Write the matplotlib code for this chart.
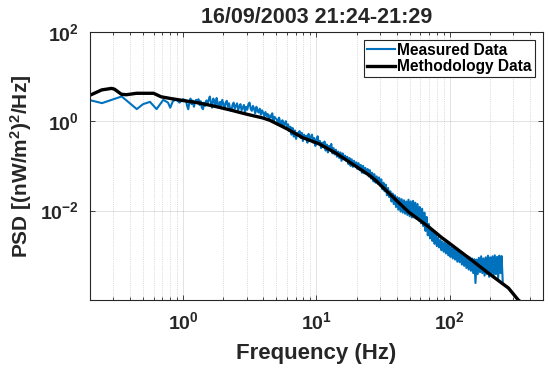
import matplotlib
matplotlib.use('Agg')
import matplotlib.pyplot as plt
import numpy as np
from matplotlib.ticker import FixedLocator, NullLocator, LogLocator, FuncFormatter

# --- Global Style (MATLAB-ish look) ---
plt.rcParams.update({
    'font.family': 'sans-serif',
    'font.sans-serif': ['Liberation Sans', 'DejaVu Sans'],
    'font.weight': 'bold',
    'mathtext.fontset': 'custom',
    'mathtext.rm': 'Liberation Sans:bold',
    'mathtext.bf': 'Liberation Sans:bold',
    'mathtext.it': 'Liberation Sans:bold',
    'axes.linewidth': 0.8,
    'xtick.direction': 'in',
    'ytick.direction': 'in',
})

# --- Measured data: sparse low-frequency part (Hz, PSD) ---
meas_freq_low = [0.20, 0.246, 0.346, 0.449, 0.50, 0.564, 0.632, 0.71, 0.77,
                 0.80, 0.84, 0.89, 0.94, 1.00]
meas_psd_low = [2.95, 2.53, 3.57, 1.86, 2.4, 2.7, 1.86, 3.0, 2.6,
                2.0, 2.85, 3.0, 2.6, 3.1]

# dense part: 280 bins from 1.05 Hz to 250 Hz (log spaced sample grid)
meas_freq_high = np.geomspace(1.05, 250, 280)
meas_psd_high = [
    2.9, 2.2, 1.85, 2.6, 3.2, 2.4, 2.9, 2.1, 2.7, 3.0,
    2.5, 3.1, 2.3, 2.8, 2.0, 1.85, 2.6, 2.2, 2.9, 2.4,
    3.0, 3.55, 2.6, 2.0, 3.2, 2.8, 2.3, 3.3, 2.5, 2.1,
    2.7, 2.2, 3.0, 2.4, 1.9, 2.6, 2.85, 2.1, 2.5, 1.8,
    1.7, 2.3, 2.6, 1.9, 2.2, 2.5, 1.8, 2.1, 2.4, 1.75,
    2.0, 2.3, 1.6, 2.1, 1.8, 2.4, 2.6, 1.9, 1.7, 2.2,
    1.9, 1.5, 2.1, 1.7, 1.56, 1.9, 1.4, 1.75, 1.55, 1.3,
    1.6, 1.3, 1.45, 1.1, 1.35, 1.2, 1.5, 1.0, 1.25, 1.15,
    1.1, 0.85, 1.2, 0.95, 0.8, 1.05, 0.75, 0.9, 1.0, 0.7,
    0.85, 0.6, 0.75, 0.5, 0.7, 0.45, 0.62, 0.4, 0.55, 0.48,
    0.6, 0.42, 0.55, 0.36, 0.5, 0.4, 0.47, 0.33, 0.52, 0.38,
    0.45, 0.5, 0.33, 0.42, 0.28, 0.38, 0.46, 0.3, 0.36, 0.25,
    0.33, 0.26, 0.35, 0.22, 0.3, 0.2, 0.28, 0.24, 0.31, 0.19,
    0.25, 0.18, 0.23, 0.16, 0.21, 0.15, 0.2, 0.13, 0.19, 0.14,
    0.17, 0.13, 0.16, 0.11, 0.15, 0.1, 0.14, 0.095, 0.13, 0.1,
    0.12, 0.085, 0.115, 0.08, 0.105, 0.07, 0.1, 0.068, 0.09, 0.065,
    0.085, 0.058, 0.08, 0.052, 0.07, 0.045, 0.065, 0.042, 0.058, 0.04,
    0.055, 0.036, 0.05, 0.03, 0.042, 0.027, 0.038, 0.022, 0.032, 0.02,
    0.027, 0.016, 0.024, 0.014, 0.022, 0.012, 0.02, 0.0105, 0.019, 0.0095,
    0.018, 0.009, 0.017, 0.0085, 0.016, 0.008, 0.0175, 0.0075, 0.016, 0.007,
    0.0165, 0.007, 0.015, 0.0065, 0.014, 0.006, 0.012, 0.0052, 0.011, 0.0045,
    0.009, 0.0035, 0.0072, 0.0028, 0.005, 0.0024, 0.0038, 0.0021, 0.0032, 0.0018,
    0.0028, 0.0016, 0.0025, 0.0015, 0.0022, 0.0013, 0.002, 0.0012, 0.0019, 0.0011,
    0.0018, 0.001, 0.0017, 0.00092, 0.0015, 0.00085, 0.0014, 0.0008, 0.0013, 0.00072,
    0.0013, 0.0007, 0.0012, 0.00062, 0.0011, 0.00058, 0.001, 0.00052, 0.00095, 0.00048,
    0.0009, 0.00045, 0.00085, 0.0004, 0.00082, 0.00024, 0.0008, 0.00038, 0.00088, 0.00042,
    0.00095, 0.0004, 0.00085, 0.00035, 0.0009, 0.00038, 0.00098, 0.00033, 0.0009, 0.0004,
    0.00095, 0.00035, 0.001, 0.00038, 0.00092, 0.00031, 0.00098, 0.0004, 0.00096, 0.00026,
]

# --- Methodology data ---
meth_freq = [0.2, 0.245, 0.29, 0.305, 0.344, 0.375, 0.446, 0.60, 0.685, 0.81,
             1.03, 1.27, 1.67, 2.24, 3.0, 3.96, 4.46, 5.97, 7.86, 10.5,
             14.1, 18.6, 24.9, 28.1, 36.9, 49.2, 69.7, 86.9, 98, 138.6,
             195, 276, 327, 360]
meth_psd = [3.8, 5.0, 5.4, 5.2, 4.0, 3.9, 4.2, 4.2, 3.5, 3.2,
            2.85, 2.6, 2.2, 1.79, 1.43, 1.18, 1.05, 0.68, 0.43, 0.31,
            0.19, 0.11, 0.062, 0.046, 0.021, 0.0093, 0.0043, 0.0025, 0.00192, 8.8e-4,
            4.0e-4, 1.85e-4, 1.0e-4, 8e-5]

title = '16/09/2003 21:24-21:29'
xticks = [1e0, 1e1, 1e2]
yticks = [1e-2, 1e0, 1e2]


def pow_fmt(v, pos):
    return r'$\mathbf{10^{%d}}$' % int(round(np.log10(v)))


fig = plt.figure(figsize=(5.5, 3.69), dpi=100)
ax = fig.add_axes([0.1636, 0.187, 0.8234, 0.727])

freq_all = np.concatenate([meas_freq_low, meas_freq_high])
psd_all = np.concatenate([meas_psd_low, meas_psd_high])
ax.plot(freq_all, psd_all, color='#0072BD', linewidth=1.5, label='Measured Data')
ax.plot(meth_freq, meth_psd, color='black', linewidth=2.4, label='Methodology Data')

ax.set_xscale('log')
ax.set_yscale('log')
ax.set_xlim(0.2, 500)
ax.set_ylim(1e-4, 1e2)

ax.xaxis.set_major_locator(FixedLocator(xticks))
ax.xaxis.set_minor_locator(LogLocator(base=10, subs=np.arange(2, 10)))
ax.xaxis.set_major_formatter(FuncFormatter(pow_fmt))
ax.yaxis.set_major_locator(FixedLocator(yticks))
ax.yaxis.set_minor_locator(NullLocator())
ax.yaxis.set_major_formatter(FuncFormatter(pow_fmt))

ax.tick_params(which='both', top=True, right=True, colors='#262626',
               labelcolor='#262626', labelsize=14, width=0.6)
ax.tick_params(which='major', length=3.5, pad=8)
ax.tick_params(which='minor', length=2)
for s in ax.spines.values():
    s.set_color('#262626')

ax.grid(which='major', color='#262626', alpha=0.15, linewidth=0.6)
ax.grid(which='minor', axis='x', color='#262626', alpha=0.3, linewidth=0.5,
        linestyle=':')
ax.set_axisbelow(True)

ax.set_title(title, fontsize=15.5, fontweight='bold', color='#262626', pad=6)
ax.set_xlabel('Frequency (Hz)', fontsize=16, fontweight='bold', color='#262626',
              labelpad=7)
ax.set_ylabel(r'PSD [(nW/m$^{\mathbf{2}}$)$^{\mathbf{2}}$/Hz]', fontsize=15,
              fontweight='bold', color='#262626', labelpad=4)

leg = ax.legend(loc='upper right', fontsize=11.2, frameon=True, fancybox=False,
                edgecolor='#262626', framealpha=1, handlelength=1.8,
                handletextpad=0.15, labelspacing=0.1, borderpad=0.2,
                borderaxespad=0.5)
leg.get_frame().set_linewidth(0.8)
for t in leg.get_texts():
    t.set_fontweight('bold')

fig.savefig('out.png', dpi=100)
